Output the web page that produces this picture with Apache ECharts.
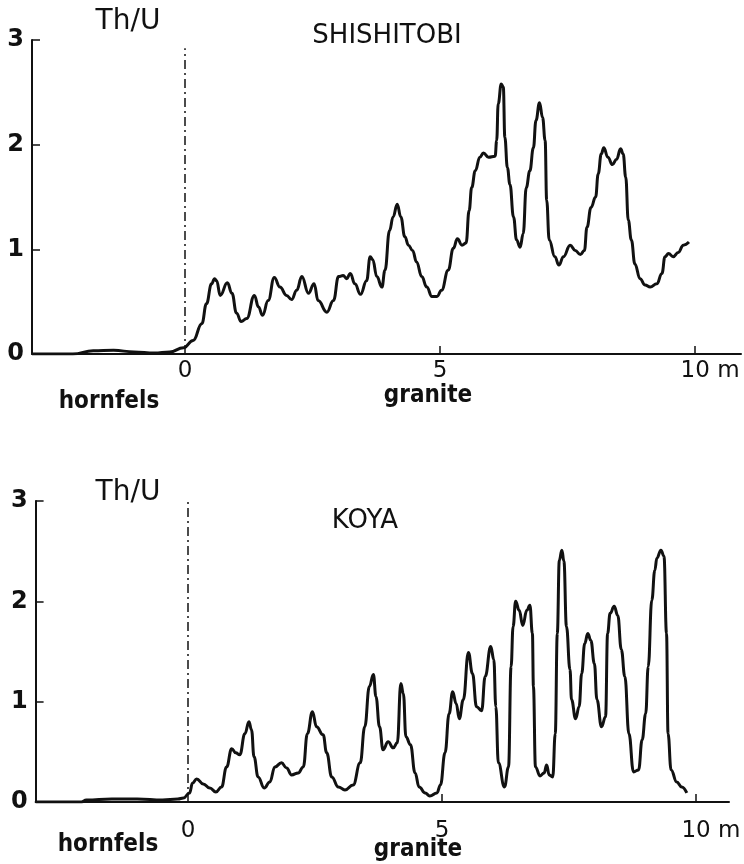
<!DOCTYPE html>
<html>
<head>
<meta charset="utf-8">
<script src="https://cdn.jsdelivr.net/npm/echarts@6/dist/echarts.min.js"></script>
<style>
  html, body { margin: 0; padding: 0; background: #fff; }
  #main { width: 744px; height: 864px; }
</style>
</head>
<body>
<div id="main"></div>
<script>
// 数据：Th/U 比值随距离变化（m），接触面在 0
var shishiX = [-3, -2.2, -1.8, -1.4, -1.0, -0.6, -0.3, -0.03, 0.16, 0.33, 0.42, 0.52, 0.58, 0.62, 0.69, 0.83, 0.92, 1.01, 1.10, 1.21,
  1.36, 1.44, 1.52, 1.63, 1.75, 1.86, 1.99, 2.09, 2.19, 2.29, 2.42, 2.53, 2.61, 2.78, 2.91, 3.01, 3.10, 3.17, 3.24, 3.33,
  3.44, 3.56, 3.63, 3.68, 3.76, 3.86, 3.92, 4.01, 4.08, 4.16, 4.23, 4.31, 4.38, 4.46, 4.54, 4.64, 4.74, 4.84, 4.94, 5.03,
  5.16, 5.26, 5.34, 5.43, 5.51, 5.57, 5.62, 5.69, 5.78, 5.85, 5.95, 6.08, 6.11, 6.14, 6.20, 6.24, 6.27, 6.32, 6.37, 6.44,
  6.50, 6.57, 6.63, 6.69, 6.76, 6.83, 6.88, 6.95, 7.01, 7.06, 7.09, 7.14, 7.25, 7.33, 7.42, 7.55, 7.65, 7.75, 7.83, 7.88,
  7.96, 8.05, 8.10, 8.16, 8.21, 8.29, 8.38, 8.46, 8.54, 8.59, 8.64, 8.69, 8.75, 8.82, 8.92, 9.02, 9.12, 9.25, 9.35, 9.41,
  9.48, 9.57, 9.67, 9.77, 9.88];
var shishiY = [0, 0, 0.03, 0.035, 0.02, 0.01, 0.02, 0.06, 0.13, 0.29, 0.48, 0.67, 0.72, 0.70, 0.56, 0.68, 0.58, 0.39, 0.31, 0.34,
  0.56, 0.45, 0.37, 0.51, 0.73, 0.64, 0.56, 0.52, 0.61, 0.74, 0.58, 0.67, 0.51, 0.40, 0.51, 0.74, 0.75, 0.72, 0.77, 0.67,
  0.57, 0.70, 0.93, 0.90, 0.74, 0.64, 0.80, 1.18, 1.31, 1.43, 1.31, 1.12, 1.04, 0.99, 0.88, 0.74, 0.64, 0.55, 0.55, 0.61,
  0.80, 1.01, 1.10, 1.04, 1.06, 1.37, 1.59, 1.75, 1.88, 1.92, 1.88, 1.89, 2.04, 2.39, 2.58, 2.55, 2.07, 1.78, 1.62, 1.31,
  1.09, 1.02, 1.15, 1.59, 1.75, 1.97, 2.23, 2.40, 2.26, 2.04, 1.47, 1.09, 0.93, 0.85, 0.93, 1.04, 0.99, 0.95, 0.99, 1.21,
  1.40, 1.50, 1.72, 1.91, 1.97, 1.88, 1.81, 1.86, 1.96, 1.91, 1.69, 1.28, 1.09, 0.86, 0.72, 0.66, 0.64, 0.67, 0.77, 0.93,
  0.96, 0.93, 0.97, 1.04, 1.07];

var koyaX = [-3, -2.1, -2.0, -1.5, -1.0, -0.5, -0.2, -0.09, 0.03, 0.09, 0.17, 0.30, 0.43, 0.55, 0.66, 0.76, 0.86, 0.94, 1.02, 1.12,
  1.20, 1.25, 1.30, 1.38, 1.50, 1.61, 1.71, 1.84, 1.94, 2.04, 2.17, 2.27, 2.35, 2.45, 2.53, 2.66, 2.73, 2.83, 2.96, 3.09,
  3.25, 3.39, 3.48, 3.57, 3.65, 3.70, 3.77, 3.84, 3.94, 4.04, 4.12, 4.19, 4.24, 4.29, 4.38, 4.47, 4.55, 4.67, 4.76, 4.90,
  4.97, 5.06, 5.14, 5.21, 5.28, 5.34, 5.42, 5.52, 5.60, 5.68, 5.78, 5.85, 5.96, 6.02, 6.06, 6.11, 6.23, 6.31, 6.36, 6.40,
  6.45, 6.52, 6.59, 6.67, 6.73, 6.78, 6.80, 6.84, 6.93, 7.01, 7.06, 7.11, 7.18, 7.23, 7.27, 7.31, 7.36, 7.40, 7.45, 7.52,
  7.55, 7.63, 7.70, 7.75, 7.81, 7.87, 7.93, 8.00, 8.05, 8.14, 8.22, 8.26, 8.31, 8.39, 8.46, 8.53, 8.60, 8.68, 8.77, 8.87,
  8.94, 9.01, 9.06, 9.13, 9.19, 9.23, 9.31, 9.37, 9.42, 9.45, 9.51, 9.62, 9.72, 9.82];
var koyaY = [0, 0, 0.02, 0.03, 0.03, 0.02, 0.03, 0.04, 0.09, 0.19, 0.23, 0.18, 0.14, 0.10, 0.15, 0.35, 0.53, 0.49, 0.47, 0.68,
  0.80, 0.72, 0.45, 0.25, 0.14, 0.20, 0.35, 0.39, 0.34, 0.27, 0.29, 0.35, 0.68, 0.90, 0.75, 0.67, 0.49, 0.25, 0.15, 0.12,
  0.17, 0.39, 0.75, 1.15, 1.27, 1.05, 0.75, 0.52, 0.60, 0.54, 0.59, 1.18, 1.08, 0.65, 0.57, 0.29, 0.15, 0.09, 0.06, 0.09,
  0.17, 0.49, 0.88, 1.10, 0.98, 0.83, 1.02, 1.49, 1.28, 0.95, 0.91, 1.25, 1.55, 1.42, 0.95, 0.39, 0.15, 0.35, 1.35, 1.75,
  2.00, 1.91, 1.76, 1.91, 1.96, 1.68, 1.15, 0.35, 0.26, 0.29, 0.37, 0.27, 0.25, 0.68, 1.68, 2.41, 2.51, 2.40, 1.75, 1.32,
  1.02, 0.83, 0.95, 1.28, 1.58, 1.68, 1.61, 1.38, 1.02, 0.75, 0.85, 1.68, 1.88, 1.95, 1.86, 1.52, 1.25, 0.68, 0.30, 0.32,
  0.62, 0.88, 1.35, 2.01, 2.31, 2.43, 2.51, 2.45, 1.68, 0.68, 0.32, 0.20, 0.15, 0.09];

var xTickValues = [5, 10];       // x 轴刻度
var xLabelValues = [0, 5, 10];   // x 轴标签

function zip(xs, ys) {
    return xs.map(function (x, i) { return [x, ys[i]]; });
}

var black = '#111';
var fam = '"DejaVu Sans", sans-serif';
var condFam = '"DejaVu Sans Condensed", "Liberation Sans Narrow", "DejaVu Sans", sans-serif';

function xAxisOf(gi, max, margin) {
    return {
        type: 'value', gridIndex: gi, min: -3, max: max,
        axisLine: { show: true, onZero: false, lineStyle: { color: black, width: 2 } },
        axisTick: { show: true, inside: true, length: 8, customValues: xTickValues, lineStyle: { color: black, width: 1.5 } },
        axisLabel: {
            customValues: xLabelValues, margin: margin, color: black, fontSize: 23, fontFamily: fam,
            formatter: function (v) { return v === 10 ? '{r|10 m}' : String(v); },
            rich: { r: { padding: [0, 0, 0, 30], fontSize: 23, fontFamily: fam, color: black } }
        },
        splitLine: { show: false }
    };
}
function yAxisOf(gi) {
    return {
        type: 'value', gridIndex: gi, min: 0, max: 3, interval: 1,
        axisLine: { show: true, onZero: false, lineStyle: { color: black, width: 2 } },
        axisTick: { show: true, inside: true, length: 8, lineStyle: { color: black, width: 1.5 } },
        axisLabel: { margin: 8, color: black, fontSize: 24, fontWeight: 'bold', fontFamily: fam },
        splitLine: { show: false }
    };
}
function seriesOf(gi, data, top) {
    return {
        type: 'line', xAxisIndex: gi, yAxisIndex: gi,
        data: data, showSymbol: false, smooth: 0.45, smoothMonotone: 'x',
        lineStyle: { color: black, width: 3 },
        markLine: {
            silent: true, symbol: ['none', 'none'], label: { show: false },
            lineStyle: { color: black, width: 1.5, type: [9, 4, 2, 4] },
            data: [[{ coord: [0, 0] }, { coord: [0, top] }]]
        }
    };
}
function txt(s, x, y, size, weight, family) {
    return {
        type: 'text', silent: true,
        style: {
            text: s, x: x, y: y, align: 'center', verticalAlign: 'middle', fill: black,
            font: (weight || 'normal') + ' ' + size + 'px ' + (family || fam)
        }
    };
}

var myChart = echarts.init(document.getElementById('main'));
var option = {
    animation: false,
    backgroundColor: '#fff',
    grid: [
        { left: 32, right: 3, top: 40, bottom: 510 },
        { left: 35.6, right: 15, top: 501, bottom: 62 }
    ],
    xAxis: [xAxisOf(0, 10.9, 6), xAxisOf(1, 10.65, 18)],
    yAxis: [yAxisOf(0), yAxisOf(1)],
    series: [
        seriesOf(0, zip(shishiX, shishiY), 2.92),
        seriesOf(1, zip(koyaX, koyaY), 3)
    ],
    graphic: [
        txt('Th/U', 128, 22, 28),
        txt('SHISHITOBI', 387, 36, 26),
        txt('hornfels', 109, 402, 24, 'bold', condFam),
        txt('granite', 428, 396, 24, 'bold', condFam),
        txt('Th/U', 128, 493, 28),
        txt('KOYA', 365, 521, 26),
        txt('hornfels', 108, 845, 24, 'bold', condFam),
        txt('granite', 418, 850, 24, 'bold', condFam)
    ]
};
myChart.setOption(option);
</script>
</body>
</html>
